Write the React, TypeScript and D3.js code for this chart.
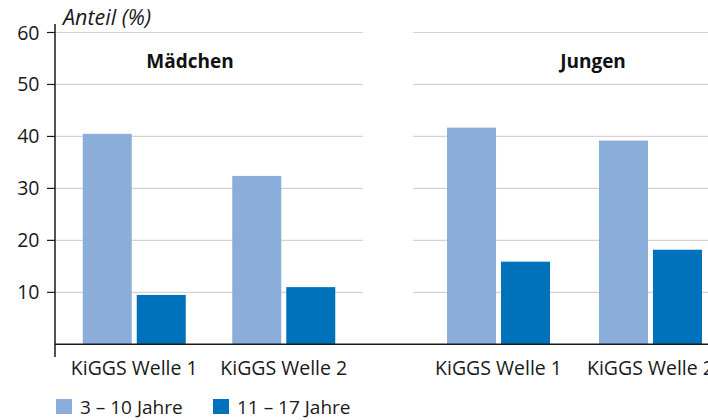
import React from "react";
import * as d3 from "d3";

const panels = ["Mädchen", "Jungen"];
const waves = ["KiGGS Welle 1", "KiGGS Welle 2"];
const series = ["3 – 10 Jahre", "11 – 17 Jahre"];
const girls3to10 = [40.5, 32.4];
const girls11to17 = [9.5, 11.0];
const boys3to10 = [41.7, 39.2];
const boys11to17 = [15.9, 18.2];
const yTicks = [10, 20, 30, 40, 50, 60];
const colors = ["#8aadda", "#0071bb"];

const W = 708;
const H = 420;
const FONT = "'Open Sans', Lato, sans-serif";

export default function App() {
  const y = d3.scaleLinear().domain([0, 60]).range([344.3, 32.5]);
  const panelRanges: [number, number][] = [
    [55, 363],
    [418, 731],
  ];
  const gridRanges: [number, number][] = [
    [55, 363],
    [413, 708],
  ];
  const values = [
    [girls3to10, girls11to17],
    [boys3to10, boys11to17],
  ];
  const sub = d3.scaleBand<string>().domain(series).range([-51.5, 51.5]).paddingInner(0.0926);
  const titleX = [190, 593];

  return (
    <svg
      width={W}
      height={H}
      style={{ position: "absolute", left: 0, top: 0, background: "#fff" }}
      fontFamily={FONT}
    >
      {panels.map((p, pi) =>
        yTicks.map((t) => (
          <line
            key={p + t}
            x1={gridRanges[pi][0]}
            x2={gridRanges[pi][1]}
            y1={y(t)}
            y2={y(t)}
            stroke="#d4d4d4"
            strokeWidth={1.2}
          />
        ))
      )}
      {panels.map((p, pi) => {
        const x = d3.scalePoint<string>().domain(waves).range(panelRanges[pi]).padding(0.53);
        return (
          <g key={p}>
            {waves.map((w, wi) =>
              series.map((s, si) => {
                const v = values[pi][si][wi];
                return (
                  <rect
                    key={w + s}
                    x={(x(w) as number) + (sub(s) as number)}
                    y={y(v)}
                    width={sub.bandwidth()}
                    height={y(0) - y(v)}
                    fill={colors[si]}
                  />
                );
              })
            )}
            {waves.map((w) => (
              <text
                key={w}
                x={x(w) as number}
                y={375}
                textAnchor="middle"
                fontSize={19.5}
                fill="#1a1a1a"
              >
                {w}
              </text>
            ))}
            <text x={titleX[pi]} y={68} textAnchor="middle" fontSize={19} fontWeight="bold" fill="#111">
              {p}
            </text>
          </g>
        );
      })}
      <line x1={55} x2={708} y1={y(0)} y2={y(0)} stroke="#1a1a1a" strokeWidth={1.5} />
      <line x1={55} x2={55} y1={24} y2={357} stroke="#1a1a1a" strokeWidth={1.5} />
      {yTicks.map((t) => (
        <g key={t}>
          <line x1={47} x2={55} y1={y(t)} y2={y(t)} stroke="#1a1a1a" strokeWidth={1.2} />
          <text x={39.5} y={y(t)} dy="0.36em" textAnchor="end" fontSize={19.5} fill="#1a1a1a">
            {t}
          </text>
        </g>
      ))}
      <text x={63} y={25} fontSize={21.5} fontStyle="italic" fill="#1a1a1a">
        Anteil (%)
      </text>
      {series.map((s, si) => (
        <g key={s} transform={`translate(${[56, 213][si]},399)`}>
          <rect width={16} height={15} fill={colors[si]} />
          <text x={24} y={15} fontSize={19} fill="#1a1a1a">
            {s}
          </text>
        </g>
      ))}
    </svg>
  );
}
